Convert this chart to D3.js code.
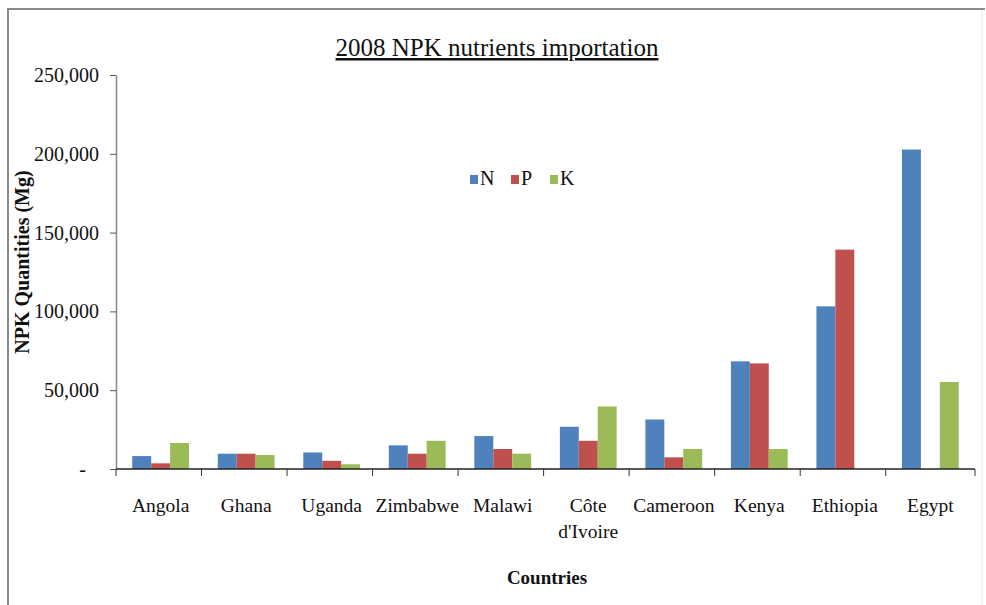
<!DOCTYPE html>
<html>
<head>
<meta charset="utf-8">
<script src="https://cdn.jsdelivr.net/npm/d3@7"></script>
<style>
  html, body { margin: 0; padding: 0; background: #fff; }
  svg { display: block; font-family: "Liberation Serif", "Times New Roman", serif; }
</style>
</head>
<body>
<div id="chart"></div>
<script>
// ---- data (Mg) ----
const countries = ["Angola", "Ghana", "Uganda", "Zimbabwe", "Malawi", "Côte d'Ivoire", "Cameroon", "Kenya", "Ethiopia", "Egypt"];
const seriesNames = ["N", "P", "K"];
const nValues = [8200, 9700, 10500, 15000, 20900, 26800, 31400, 68300, 103200, 202700];
const pValues = [3600, 9700, 5200, 9700, 12700, 17900, 7400, 67000, 139200, 0];
const kValues = [16500, 8900, 3000, 17900, 9700, 39700, 12700, 12700, 0, 55200];
const yTicks = [0, 50000, 100000, 150000, 200000, 250000];

const colors = { N: "#4F81BD", P: "#C0504D", K: "#9BBB59" };

const W = 986, H = 605;
const margin = { left: 116, right: 11, top: 75, bottom: 136 };

const svg = d3.select("#chart").append("svg")
  .attr("width", W).attr("height", H);

// frame
svg.append("path")
  .attr("d", `M8,${H} V9 H985`)
  .attr("fill", "none").attr("stroke", "#8a8a8a").attr("stroke-width", 2);
svg.append("line")
  .attr("x1", 982).attr("x2", 982).attr("y1", 10).attr("y2", H)
  .attr("stroke", "#e4e4e4").attr("stroke-width", 1);

const x = d3.scaleBand()
  .domain(countries)
  .range([margin.left, W - margin.right])
  .paddingInner(0.336)
  .paddingOuter(0.19);

const xs = d3.scaleBand().domain(seriesNames).range([0, x.bandwidth()]);

const y = d3.scaleLinear()
  .domain([0, 250000])
  .range([H - margin.bottom, margin.top]);

const rows = countries.map((c, i) => ({ country: c, N: nValues[i], P: pValues[i], K: kValues[i] }));

// bars
svg.append("g").selectAll("g")
  .data(rows)
  .join("g")
  .attr("transform", d => `translate(${x(d.country)},0)`)
  .selectAll("rect")
  .data(d => seriesNames.map(s => ({ s, v: d[s] })).filter(e => e.v > 0))
  .join("rect")
  .attr("x", e => xs(e.s))
  .attr("width", xs.bandwidth())
  .attr("y", e => y(e.v))
  .attr("height", e => y(0) - y(e.v))
  .attr("fill", e => colors[e.s]);

// y axis
const fmt = d3.format(",");
const yAxis = svg.append("g")
  .attr("transform", `translate(${margin.left},0)`)
  .call(d3.axisLeft(y).tickValues(yTicks).tickSize(6).tickSizeOuter(0)
    .tickFormat(d => d === 0 ? "-" : fmt(d)));
yAxis.select(".domain").attr("stroke", "#888").attr("stroke-width", 1.5);
yAxis.selectAll(".tick line").attr("stroke", "#555");
yAxis.selectAll(".tick text")
  .attr("font-family", "Liberation Serif, serif")
  .attr("font-size", 20).attr("fill", "#111").attr("x", -17)
  .filter(d => d === 0).attr("x", -30);

// x axis with ticks at category boundaries
const bounds = countries.map(c => x(c) - x.step() * x.paddingOuter()).concat([W - margin.right]);
const xAxisG = svg.append("g");
xAxisG.append("line")
  .attr("x1", margin.left).attr("x2", W - margin.right)
  .attr("y1", y(0)).attr("y2", y(0))
  .attr("stroke", "#222").attr("stroke-width", 1.5);
xAxisG.selectAll("line.tk")
  .data(bounds)
  .join("line").attr("class", "tk")
  .attr("x1", d => d).attr("x2", d => d)
  .attr("y1", y(0)).attr("y2", y(0) + 7)
  .attr("stroke", "#333");

// category labels (wrap Côte d'Ivoire)
const labelG = svg.append("g")
  .attr("font-size", 19.5).attr("fill", "#111").attr("text-anchor", "middle");
countries.forEach(c => {
  const cx = x(c) + x.bandwidth() / 2;
  const lines = c === "Côte d'Ivoire" ? ["Côte", "d'Ivoire"] : [c];
  const t = labelG.append("text").attr("x", cx).attr("y", 512);
  lines.forEach((ln, i) => t.append("tspan").attr("x", cx).attr("dy", i ? 26 : 0).text(ln));
});

// title
svg.append("text")
  .attr("x", 497).attr("y", 56)
  .attr("text-anchor", "middle")
  .attr("font-size", 25).attr("fill", "#111")
  .attr("text-decoration", "underline")
  .text("2008 NPK nutrients importation");

// axis titles
svg.append("text")
  .attr("transform", "translate(29,262) rotate(-90)")
  .attr("text-anchor", "middle")
  .attr("font-size", 20).attr("font-weight", "bold").attr("fill", "#111")
  .text("NPK Quantities (Mg)");

svg.append("text")
  .attr("x", 547).attr("y", 584)
  .attr("text-anchor", "middle")
  .attr("font-size", 19).attr("font-weight", "bold").attr("fill", "#111")
  .text("Countries");

// legend
const legendX = [470, 511, 550];
const legend = svg.append("g").selectAll("g")
  .data(seriesNames)
  .join("g")
  .attr("transform", (d, i) => `translate(${legendX[i]},175)`);
legend.append("rect").attr("width", 8).attr("height", 9).attr("fill", d => colors[d]);
legend.append("text").attr("x", 10).attr("y", 10)
  .attr("font-size", 20).attr("fill", "#111").text(d => d);
</script>
</body>
</html>
